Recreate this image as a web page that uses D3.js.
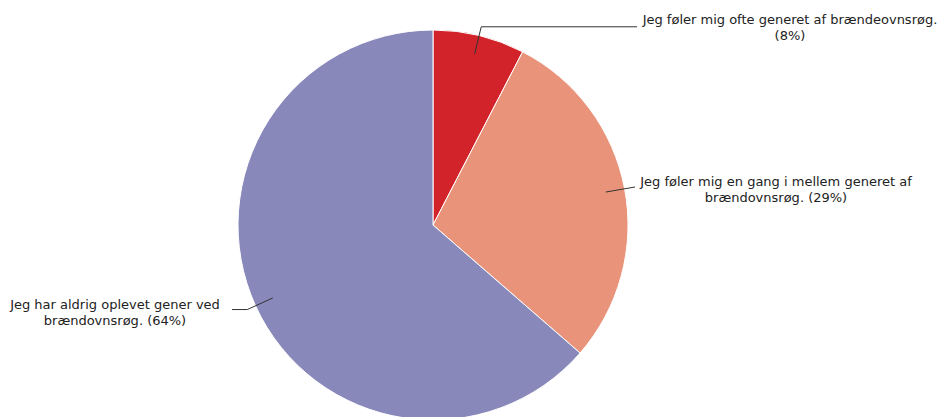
<!DOCTYPE html>
<html>
<head>
<meta charset="utf-8">
<script src="https://cdn.jsdelivr.net/npm/d3@7"></script>
<style>
  body { margin: 0; background: #fff; }
  text { font-family: "DejaVu Sans", Verdana, sans-serif; font-size: 13px; fill: #222; }
</style>
</head>
<body>
<svg id="chart" width="942" height="417"></svg>
<script>
// data
const labels = [
    ["Jeg føler mig ofte generet af brændeovnsrøg.", "(8%)"],
    ["Jeg føler mig en gang i mellem generet af", "brændovnsrøg. (29%)"],
    ["Jeg har aldrig oplevet gener ved", "brændovnsrøg. (64%)"]
];
const values = [7.6, 28.8, 63.6];
const colors = ["#d2232b", "#e8937a", "#8888ba"];

// label anchors (centre of text block) and where the leader line ends
const labelX = [790, 776, 115];
const labelY = [19, 181, 304];
const lineEndX = [637, 635, 232];

const svg = d3.select("#chart");
const cx = 433, cy = 225, r = 195;

const g = svg.append("g").attr("transform", `translate(${cx},${cy})`);

const pie = d3.pie().sort(null).value(d => d);
const arcs = pie(values);

const arc = d3.arc().innerRadius(0).outerRadius(r);
const inner = d3.arc().innerRadius(176).outerRadius(176);
const elbow = d3.arc().innerRadius(204).outerRadius(204);

g.selectAll(".slice")
    .data(arcs)
    .enter()
    .append("path")
    .attr("class", "slice")
    .attr("d", arc)
    .attr("fill", (d, i) => colors[i])
    .attr("stroke", "#fff")
    .attr("stroke-width", 1);

// leader lines
g.selectAll(".leader")
    .data(arcs)
    .enter()
    .append("polyline")
    .attr("class", "leader")
    .attr("fill", "none")
    .attr("stroke", "#333")
    .attr("stroke-width", 1)
    .attr("points", (d, i) => {
        const a = inner.centroid(d);
        const b = elbow.centroid(d);
        if (i === 1) return [a, [lineEndX[i] - cx, labelY[i] + 6 - cy]].join(" ");
        return [a, b, [lineEndX[i] - cx, b[1]]].join(" ");
    });

// labels
labels.forEach((lines, i) => {
    const t = svg.append("text")
        .attr("text-anchor", "middle")
        .attr("x", labelX[i])
        .attr("y", labelY[i] + 5);
    lines.forEach((s, j) => {
        t.append("tspan")
            .attr("x", labelX[i])
            .attr("dy", j === 0 ? 0 : 16)
            .text(s);
    });
});
</script>
</body>
</html>
